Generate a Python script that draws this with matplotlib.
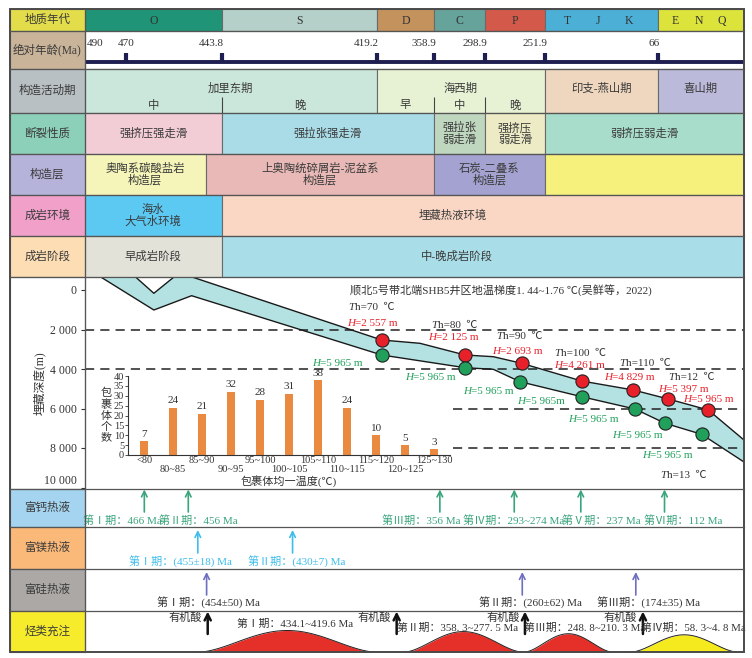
import numpy as np
import matplotlib
matplotlib.use('Agg')
import matplotlib.pyplot as plt
from matplotlib.patches import Rectangle

plt.rcParams['font.family'] = ['Liberation Serif', 'Noto Sans CJK SC', 'DejaVu Sans']
plt.rcParams['axes.unicode_minus'] = False

# ======================= DATA =======================
period_names = ['O', 'S', 'D', 'C', 'P', 'TJK', 'ENQ']
period_bounds = [490, 443.8, 419.2, 358.9, 298.9, 251.9, 66, 0]

age_ticks = [490, 470, 443.8, 419.2, 358.9, 298.9, 251.9, 66]
age_tick_labels = ['490', '470', '443.8', '419.2', '358.9', '298.9', '251.9', '66']

tect_names = ['加里东期', '海西期', '印支-燕山期', '喜山期']
tect_bounds = [490, 419.2, 251.9, 66, 0]
tect_sub_names = ['中', '晚', '早', '中', '晚']
tect_sub_bounds = [490, 443.8, 419.2, 358.9, 298.9, 251.9]
tect_sub_dividers = [443.8, 358.9, 298.9]

fault_names = ['强挤压强走滑', '强拉张强走滑', '强拉张\n弱走滑', '强挤压\n弱走滑', '弱挤压弱走滑']
fault_bounds = [490, 443.8, 358.9, 298.9, 251.9, 0]

layer_names = ['奥陶系碳酸盐岩\n构造层', '上奥陶统碎屑岩-泥盆系\n构造层', '石炭-二叠系\n构造层', '']
layer_bounds = [490, 448.2, 358.9, 251.9, 0]

env_names = ['海水\n大气水环境', '埋藏热液环境']
env_bounds = [490, 443.8, 0]

stage_names = ['早成岩阶段', '中-晚成岩阶段']
stage_bounds = [490, 443.8, 0]

row_labels = ['地质年代', '绝对年龄(Ma)', '构造活动期', '断裂性质', '构造层', '成岩环境',
              '成岩阶段', '', '富钙热液', '富镁热液', '富硅热液', '烃类充注']

# burial-history envelope (age Ma, depth m)
upper_age = [482.2, 467.4, 462.4, 456.9, 452.0, 414.2, 373.7, 322.4, 292.4, 270.2, 191.5, 106.6, 58.1, 27.4, 0]
upper_depth = [-660, -660, 167, -660, -660, 2532, 2699, 3291, 3377, 3711, 4608, 5063, 5519, 6076, 7595]
lower_age = [482.2, 462.4, 452.1, 414.2, 322.4, 292.4, 271.5, 191.5, 103.9, 60.6, 32.5, 0]
lower_depth = [-660, 1013, 289, 3291, 3934, 4015, 4643, 5403, 6025, 6749, 7306, 8709]

red_age = [414.2, 322.4, 270.2, 191.5, 106.6, 58.1, 27.4]
red_depth = [2532, 3291, 3711, 4608, 5063, 5519, 6076]
green_age = [414.2, 322.4, 271.5, 191.5, 103.9, 60.6, 32.5]
green_depth = [3291, 3934, 4643, 5403, 6025, 6749, 7306]

th_values = ['70', '80', '90', '100', '110', '12', '13']
h_red_values = ['2 557', '2 125', '2 693', '4 261', '4 829', '5 397', '5 965']
h_green_values = ['5 965', '5 965', '5 965', '5 965', '5 965', '5 965', '5 965']

depth_ticks = [0, 2000, 4000, 6000, 8000, 10000]
dash_full_depths = [2000, 4000]
dash_part_depths = [6000, 8000]
dash_part_start_age = 336.6

temp_bins = ['<80', '80~85', '85~90', '90~95', '95~100', '100~105', '105~110',
             '110~115', '115~120', '120~125', '125~130']
counts = [7, 24, 21, 32, 28, 31, 38, 24, 10, 5, 3]

ca_ages = [465, 453, 352, 276, 193, 61]
ca_labels = ['第Ⅰ期：466 Ma', '第Ⅱ期：456 Ma', '第Ⅲ期：356 Ma', '第Ⅳ期：293~274 Ma',
             '第Ⅴ期：237 Ma', '第Ⅵ期：112 Ma']
mg_ages = [450.4, 432.6]
mg_labels = ['第Ⅰ期：(455±18) Ma', '第Ⅱ期：(430±7) Ma']
si_ages = [448, 269.7, 102.5]
si_labels = ['第Ⅰ期：(454±50) Ma', '第Ⅱ期：(260±62) Ma', '第Ⅲ期：(174±35) Ma']
acid_ages = [447.7, 398.4, 267.6, 90.8]
charge_start = [449.8, 389.6, 267.6, 109.3]
charge_end = [419.6, 270.2, 142.2, 5.6]
charge_intensity = [1.0, 0.95, 0.85, 0.8]
charge_labels = ['第Ⅰ期：434.1~419.6 Ma', '第Ⅱ期：358. 3~277. 5 Ma',
                 '第Ⅲ期：248. 8~210. 3 Ma', '第Ⅳ期：58. 3~4. 8 Ma']

# ======================= STYLE / LAYOUT =======================
W, H = 752, 658
X0, X1, LX0 = 84.5, 744, 10
row_edges = [9, 31, 69, 113, 154, 195, 236, 277, 489, 527, 569, 611, 652]
label_colors = ['#E3DD4C', '#C9B49A', '#B9C0C3', '#8DD0B9', '#B6B3DB', '#F0A0C9',
                '#FDDDB3', '#FFFFFF', '#A4D4F0', '#FBB979', '#ABA8A6', '#F6EC2C']
period_colors = ['#1F9476', '#B4D0C8', '#C4935D', '#66A39B', '#D35A4A', '#4BAFD6', '#DCE43C']
tect_colors = ['#CBE6DA', '#E7F2D4', '#EED6BF', '#BBBADA']
fault_colors = ['#F3CDD6', '#A9DCE7', '#BFD6BF', '#ECEBC5', '#A9DDCB']
layer_colors = ['#F5F5B9', '#E8B9B6', '#A4A2D0', '#F6F07C']
env_colors = ['#5CC9F3', '#FAD6C4']
stage_colors = ['#E3E2D8', '#A9DDE7']
TXT = '#3a3a3a'
EDGE = '#6a6a6a'

# age -> horizontal pixel position of the (non-linear) time axis
scale_ages = np.array([490, 470, 443.8, 419.2, 358.9, 298.9, 251.9, 66, 0])
scale_pos = np.array([84.5, 126, 222, 377, 434, 485, 545, 658, 744])


def px_of(a):
    return np.interp(-np.asarray(a, float), -scale_ages, scale_pos)


def age_of(p):
    return np.interp(np.asarray(p, float), scale_pos, scale_ages)


# increasing forward function for matplotlib's function scale (axis is then inverted)
def sc_fwd(a):
    return -px_of(a)


def sc_inv(q):
    return age_of(-np.asarray(q, float))


def depth_at(py):
    return (py - 290) / 0.01975


def frac_rect(x0, y0, x1, y1):
    return [x0 / W, 1 - y1 / H, (x1 - x0) / W, (y1 - y0) / H]


def mid_age(a0, a1):
    return float(age_of((px_of(a0) + px_of(a1)) / 2))


fig = plt.figure(figsize=(W / 100, H / 100), dpi=100)

bg = fig.add_axes([0, 0, 1, 1], zorder=0)
bg.set_xlim(0, W); bg.set_ylim(H, 0); bg.axis('off')

fg = fig.add_axes([0, 0, 1, 1], zorder=10)
fg.set_xlim(0, W); fg.set_ylim(H, 0); fg.axis('off')
fg.patch.set_alpha(0)

# label column
for i, lab in enumerate(row_labels):
    y0, y1 = row_edges[i], row_edges[i + 1]
    bg.add_patch(Rectangle((LX0, y0), X0 - LX0, y1 - y0, facecolor=label_colors[i],
                           edgecolor=EDGE, lw=0.8))
    if lab:
        fg.text((LX0 + X0) / 2, (y0 + y1) / 2, lab, ha='center', va='center',
                fontsize=8.3, color=TXT)

# main table axes
main = fig.add_axes(frac_rect(X0, 9, X1, 652), zorder=1)
main.set_xscale('function', functions=(sc_fwd, sc_inv))
main.set_xlim(490, 0)
main.set_ylim(652, 9)
main.axis('off')


def cells(bounds, y0, y1, colors, names=None, fs=8.2, ty=None):
    for i in range(len(bounds) - 1):
        a0, a1 = bounds[i], bounds[i + 1]
        main.add_patch(Rectangle((a1, y0), a0 - a1, y1 - y0, facecolor=colors[i],
                                 edgecolor=EDGE, lw=0.8))
        if names and names[i]:
            main.text(mid_age(a0, a1), (y0 + y1) / 2 if ty is None else ty, names[i],
                      ha='center', va='center', fontsize=fs, color=TXT, linespacing=1.05)


# geological periods
cells(period_bounds, 9, 31, period_colors)
letter_frac = [0.2, 0.47, 0.74]
for i, nm in enumerate(period_names):
    a0, a1 = period_bounds[i], period_bounds[i + 1]
    if len(nm) == 1:
        main.text(mid_age(a0, a1), 20.5, nm, ha='center', va='center', fontsize=8.5, color='#333')
    else:
        p0, p1 = px_of(a0), px_of(a1)
        for ch, f in zip(nm, letter_frac):
            main.text(float(age_of(p0 + f * (p1 - p0))), 20.5, ch, ha='center', va='center',
                      fontsize=8.5, color='#333')

# absolute age row
main.add_patch(Rectangle((0, 31), 490, 38, facecolor='white', edgecolor=EDGE, lw=0.8))
main.hlines(62, 490, 0, color='#1E1E50', lw=2.8)
main.vlines(age_ticks[1:], 53, 62, color='#1E1E50', lw=3)
for i, (a, lb) in enumerate(zip(age_ticks, age_tick_labels)):
    if i == 0:
        ha, dx = 'left', 1.5
    elif i == 1:
        ha, dx = 'center', 0
    else:
        ha, dx = 'right', 1.5
    main.annotate(lb, xy=(a, 43), xytext=(dx, 0), textcoords='offset points',
                  ha=ha, va='center', fontsize=8, color='#333')

# tectonic activity
cells(tect_bounds, 69, 113, tect_colors, tect_names, ty=88)
for i, nm in enumerate(tect_sub_names):
    main.text(mid_age(tect_sub_bounds[i], tect_sub_bounds[i + 1]), 105, nm,
              ha='center', va='center', fontsize=8.2, color=TXT)
main.vlines(tect_sub_dividers, 97, 113, color='#444', lw=0.8)

cells(fault_bounds, 113, 154, fault_colors, fault_names)
cells(layer_bounds, 154, 195, layer_colors, layer_names)
cells(env_bounds, 195, 236, env_colors, None)
cells(stage_bounds, 236, 277, stage_colors, None)
main.text(mid_age(env_bounds[0], env_bounds[1]), 215.5, env_names[0], ha='center',
          va='center', fontsize=8.2, color=TXT, linespacing=1.05)
main.text(float(age_of(453)), 215.5, env_names[1], ha='center', va='center', fontsize=8.2, color=TXT)
main.text(mid_age(stage_bounds[0], stage_bounds[1]), 256.5, stage_names[0], ha='center',
          va='center', fontsize=8.2, color=TXT)
main.text(float(age_of(457)), 256.5, stage_names[1], ha='center', va='center', fontsize=8.2, color=TXT)

# ---------------- bottom rows ----------------
ca_col, mg_col, si_col = '#3AA57C', '#3EBDEB', '#6F6FC2'


def arrows(ages, ytop, ybot, col, lw=1.2, ms=10):
    for a in ages:
        main.annotate('', xy=(a, ytop), xytext=(a, ybot),
                      arrowprops=dict(arrowstyle='->', color=col, lw=lw, shrinkA=0,
                                      shrinkB=0, mutation_scale=ms))


arrows(ca_ages, 489.5, 512, ca_col)
for lb, x in zip(ca_labels, [122.7, 198, 421.7, 514, 601.7, 683]):
    main.text(float(age_of(x)), 520, lb, ha='center', va='center', fontsize=8, color=ca_col)
arrows(mg_ages, 530, 553, mg_col)
for lb, x in zip(mg_labels, [180, 297]):
    main.text(float(age_of(x)), 562, lb, ha='center', va='center', fontsize=8, color=mg_col)
arrows(si_ages, 572, 595, si_col)
for lb, x in zip(si_labels, [208, 530, 648.5]):
    main.text(float(age_of(x)), 603, lb, ha='center', va='center', fontsize=8, color='#333')
arrows(acid_ages, 611.5, 634, '#111', lw=1.8, ms=11)
for a in acid_ages:
    main.annotate('有机酸', xy=(a, 618), xytext=(-4, 0), textcoords='offset points',
                  ha='right', va='center', fontsize=8, color='#333')

for a0, a1, inten, col in zip(charge_start, charge_end, charge_intensity,
                              ['#E5302A', '#E5302A', '#E5302A', '#F5EA1E']):
    t = np.linspace(0, 1, 120)
    pp = px_of(a0) + t * (px_of(a1) - px_of(a0))
    s = ((1 - np.cos(2 * np.pi * t)) / 2) ** 0.8
    ag = age_of(pp)
    ys = 652 - 21.5 * inten * s
    main.fill_between(ag, 652, ys, color=col, lw=0, zorder=2)
    main.plot(ag, ys, color='#222', lw=0.7, zorder=3)
for lb, x, y in zip(charge_labels, [295, 458, 585, 693], [624, 628, 628, 628]):
    main.text(float(age_of(x)), y, lb, ha='center', va='center', fontsize=7.8, color='#333', zorder=4)

# ---------------- burial panel ----------------
bur = fig.add_axes(frac_rect(X0, 277, X1, 489), zorder=3)
bur.patch.set_alpha(0)
bur.set_xscale('function', functions=(sc_fwd, sc_inv))
bur.set_xlim(490, 0)
bur.set_ylim(depth_at(489), depth_at(277))
for s in bur.spines.values():
    s.set_visible(False)
bur.set_xticks([])
bur.set_yticks(depth_ticks)
bur.set_yticklabels([f'{d:,}'.replace(',', ' ') for d in depth_ticks])
bur.tick_params(axis='y', direction='out', length=3, width=0.8, pad=2.5, labelsize=8.5,
                colors='#333')
bur.get_yticklabels()[-1].set_va('bottom')

xs = list(upper_age) + list(lower_age[::-1])
ys = list(upper_depth) + list(lower_depth[::-1])
bur.fill(xs, ys, facecolor='#B4E2E2', edgecolor='none', zorder=1)
bur.plot(upper_age, upper_depth, color='#1a1a1a', lw=1.0, zorder=2)
bur.plot(lower_age, lower_depth, color='#1a1a1a', lw=1.0, zorder=2)
for d in dash_full_depths:
    bur.hlines(d, 490, 0, color='#222', lw=1.1, linestyles=(0, (6, 4)), zorder=1.5)
for d in dash_part_depths:
    bur.hlines(d, dash_part_start_age, 0, color='#222', lw=1.1, linestyles=(0, (6, 4)), zorder=1.5)
bur.plot(red_age, red_depth, 'o', ms=9.5, mfc='#E8202A', mec='#222', mew=0.8, zorder=5)
bur.plot(green_age, green_depth, 'o', ms=9.5, mfc='#20A05A', mec='#222', mew=0.8, zorder=5)

fg.text(501, 291, '顺北5号带北端SHB5井区地温梯度1. 44~1.76 ℃(吴鲜等，2022)', ha='center',
        va='center', fontsize=8, color='#333')
fg.text(40, 383, '埋藏深度(m)', rotation=90, ha='center', va='center', fontsize=8.5, color='#333')


def ital_label(x, y, letter, rest, color, fs=8):
    fg.text(x, y, letter, style='italic', color=color, fontsize=fs, ha='left', va='center')
    w = {'T': 0.6, 'H': 0.74}[letter] * fs * 100 / 72
    fg.text(x + w, y, rest, color=color, fontsize=fs, ha='left', va='center')


th_pos = [(348, 308), (431.7, 325), (496.7, 336.7), (554, 353), (619, 364), (668, 377.7), (660, 475)]
hr_pos = [(347, 324), (428, 338), (491.7, 351), (554, 365), (604, 378), (658, 390), (683, 400)]
hg_pos = [(312, 363), (405, 377.7), (463, 391.7), (516.7, 402), (568, 420), (612, 435), (642, 455.7)]
for (x, y), v in zip(th_pos, th_values):
    ital_label(x, y, 'T', f'h={v}  ℃', '#333')
for (x, y), v in zip(hr_pos, h_red_values):
    ital_label(x, y, 'H', f'={v} m', '#E8202A')
for i, ((x, y), v) in enumerate(zip(hg_pos, h_green_values)):
    ital_label(x, y, 'H', f'={v}m' if i == 3 else f'={v} m', '#20A05A')

# ---------------- inset histogram ----------------
ins = fig.add_axes(frac_rect(128.3, 376, 450, 455), zorder=4)
ins.patch.set_alpha(0)
xi = np.arange(len(counts))
ins.bar(xi, counts, width=0.29, color='#E98A40')
ins.set_xlim(-0.55, 10.55)
ins.set_ylim(0, 40)
ins.set_yticks(range(0, 41, 5))
ins.spines['top'].set_visible(False)
ins.spines['right'].set_visible(False)
for s in ['left', 'bottom']:
    ins.spines[s].set_linewidth(0.8)
    ins.spines[s].set_color('#333')
ins.tick_params(axis='y', length=2, width=0.6, pad=1, labelsize=7.5, colors='#333')
ins.tick_params(axis='x', length=0, labelsize=7.5, colors='#333')
ins.set_xticks(xi)
ins.set_xticklabels(temp_bins)
for i, tk in enumerate(ins.xaxis.get_major_ticks()):
    tk.set_pad(1.0 if i % 2 == 0 else 7.0)
for x, c in zip(xi, counts):
    ins.text(x, c + 1.2, str(c), ha='center', va='bottom', fontsize=8, color='#333')
fg.text(106, 415, '包\n裹\n体\n个\n数', ha='center', va='center', fontsize=8,
        color='#333', linespacing=1.1)
fg.text(289, 482, '包裹体均一温度(℃)', ha='center', va='center', fontsize=8, color='#333')

# ---------------- borders ----------------
for y in row_edges[1:-1]:
    fg.plot([LX0, X1], [y, y], color='#555', lw=0.9)
fg.plot([X0, X0], [row_edges[0], row_edges[-1]], color='#555', lw=0.9)
fg.add_patch(Rectangle((LX0, row_edges[0]), X1 - LX0, row_edges[-1] - row_edges[0],
                       facecolor='none', edgecolor='#4a4a4a', lw=1.4))

fig.savefig('out.png', dpi=100)
